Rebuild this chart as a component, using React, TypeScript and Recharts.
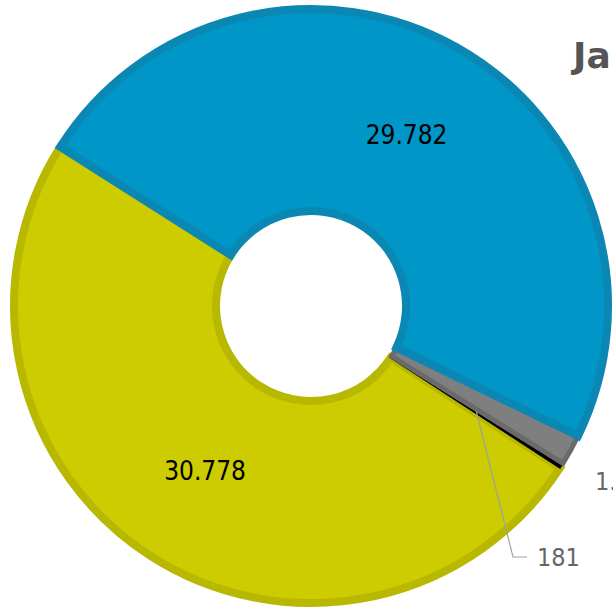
import { PieChart, Pie, Cell } from "recharts"

// slices in counter-clockwise order (Recharts draws them in this order)
const sliceNames = ["Amarelo", "Preto", "Cinza", "Azul"]
const sliceValues = [30778, 181, 1035, 29782]
const sliceLabels = ["30.778", "181", "1.035", "29.782"]
const fillColors = ["#cccc00", "#000000", "#7f7f7f", "#0096c8"]
const edgeColors = ["#b8b800", "#000000", "#6a6a6a", "#0a87b3"]
const edgeWidths = [8, 1.5, 5, 8]
const title = "Janeiro"

const data = sliceNames.map((name, i) => ({ name, value: sliceValues[i] }))

const RAD = Math.PI / 180
const labelFont = "'DejaVu Sans Condensed', 'DejaVu Sans', Verdana, sans-serif"

function renderLabel(props: any) {
  const { cx, cy, midAngle, innerRadius, outerRadius, index } = props
  const r = (innerRadius + outerRadius) / 2
  const px = cx + r * Math.cos(-midAngle * RAD)
  const py = cy + r * Math.sin(-midAngle * RAD)
  const text = sliceLabels[index]

  if (index === 0 || index === 3) {
    return (
      <text x={px} y={py} textAnchor="middle" dominantBaseline="central" fill="#000" fontSize={26} fontFamily={labelFont}>
        {text}
      </text>
    )
  }
  if (index === 1) {
    // small slice: leader line from the middle of the ring down to the label
    const ex = cx + 202
    const ey = cy + 251
    return (
      <g>
        <polyline points={`${px},${py} ${ex},${ey} ${ex + 14},${ey}`} fill="none" stroke="#a0a0a0" strokeWidth={1.2} />
        <text x={ex + 24} y={ey} textAnchor="start" dominantBaseline="central" fill="#666" fontSize={25} fontFamily={labelFont}>
          {text}
        </text>
      </g>
    )
  }
  return (
    <text x={cx + 284} y={cy + 175} textAnchor="start" dominantBaseline="central" fill="#666" fontSize={25} fontFamily={labelFont}>
      {text}
    </text>
  )
}

export default function App() {
  return (
    <div style={{ position: "fixed", left: 0, top: 0, width: 613, height: 610, overflow: "hidden", background: "#fff" }}>
      <PieChart width={613} height={610} margin={{ top: 0, right: 0, bottom: 0, left: 0 }}>
        <Pie
          data={data}
          dataKey="value"
          nameKey="name"
          cx={311}
          cy={306}
          innerRadius={95}
          outerRadius={297}
          startAngle={-212.4}
          endAngle={147.6}
          label={renderLabel}
          labelLine={false}
          isAnimationActive={false}
        >
          {data.map((d, i) => (
            <Cell key={d.name} fill={fillColors[i]} stroke={edgeColors[i]} strokeWidth={edgeWidths[i]} />
          ))}
        </Pie>
      </PieChart>
      <svg width={613} height={610} style={{ position: "absolute", left: 0, top: 0, pointerEvents: "none" }}>
        <text x={573} y={68} fill="#555" fontSize={36} fontWeight="bold" fontFamily="'DejaVu Sans', Verdana, sans-serif">
          {title}
        </text>
      </svg>
    </div>
  )
}
